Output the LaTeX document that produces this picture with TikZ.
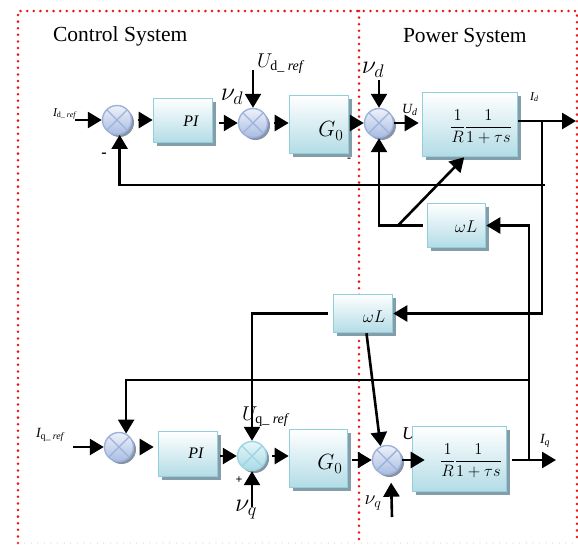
\documentclass[tikz,border=0pt]{standalone}
\usepackage{fix-cm}
\usepackage{amsmath}
\usepackage{fontspec}
\setmainfont{Liberation Serif}
\usetikzlibrary{arrows.meta,shadows,calc}
\definecolor{boxline}{HTML}{92CFDD}
\definecolor{boxbot}{HTML}{B3DCE6}
\definecolor{boxshadow}{HTML}{849DA8}
\definecolor{sumline}{HTML}{9DB2DA}
\definecolor{sumtop}{HTML}{EEF2FA}
\definecolor{sumbot}{HTML}{A9BCE2}
\definecolor{sumshadow}{HTML}{8893A6}
\definecolor{sumcline}{HTML}{9DD5E2}
\definecolor{sumctop}{HTML}{E6F6F9}
\definecolor{sumcbot}{HTML}{A8DAE6}
\definecolor{dotred}{HTML}{EE1111}
\definecolor{dotpink}{HTML}{F4C4C8}
\tikzset{
  blk/.style={rectangle, draw=boxline, line width=1.6pt, top color=white, bottom color=boxbot,
    inner sep=0pt, drop shadow={shadow xshift=3.5pt, shadow yshift=-3.5pt, fill=boxshadow, opacity=1}},
  sum/.style={circle, draw=#1, line width=1.4pt, top color=sumtop, bottom color=sumbot,
    minimum size=29pt, inner sep=0pt,
    drop shadow={shadow xshift=2.5pt, shadow yshift=-2.5pt, fill=sumshadow, opacity=1},
    path picture={\draw[#1, line width=1.4pt]
      (path picture bounding box.north west) -- (path picture bounding box.south east)
      (path picture bounding box.south west) -- (path picture bounding box.north east);}},
  sum/.default=sumline,
  sumc/.style={sum=sumcline, top color=sumctop, bottom color=sumcbot},
  arr/.style={line width=2.6pt, -{Triangle[length=14pt,width=16pt]}},
  ln/.style={line width=2.6pt},
  lbl/.style={inner sep=0pt, outer sep=0pt},
  dotline/.style={dotred, line width=2.8pt, line cap=round, dash pattern=on 0pt off 6.6pt}
}
\begin{document}
\begin{tikzpicture}[x=1pt,y=-1pt]
\fill[white] (0,0) rectangle (578,544);
\useasboundingbox (0,0) rectangle (578,544);

% frame
\draw[dotline] (18,543) -- (18,11) -- (577,11) -- (577,543);
\draw[dotline] (359,11) -- (359,543);
\draw[dotpink, line width=1.2pt, line cap=round, dash pattern=on 0pt off 6.6pt] (18,543) -- (577,543);

\node[lbl, anchor=west, font=\fontsize{21.5}{24}\selectfont] (tcs) at (53,36) {Control System};
\node[lbl, anchor=west, font=\fontsize{21.5}{24}\selectfont] (tps) at (403,38) {Power System};

% partially hidden label
\node[lbl, anchor=base west, font=\fontsize{18}{20}\selectfont] (Uqpart) at (402,439) {$\textit{U}$};

% blocks
\node[blk, minimum width=59pt, minimum height=44pt] (PId) at (183,120.5) {};
\node[blk, minimum width=59pt, minimum height=58pt] (G0d) at (319,124.5) {};
\node[blk, minimum width=95pt, minimum height=64pt] (Pd) at (470,124.5) {};
\node[blk, minimum width=58pt, minimum height=44pt] (wL1) at (456.5,225.5) {};
\node[blk, minimum width=59pt, minimum height=38pt] (wL2) at (363,313.5) {};
\node[blk, minimum width=59pt, minimum height=45pt] (PIq) at (188,454) {};
\node[blk, minimum width=58pt, minimum height=58pt] (G0q) at (318.5,458.5) {};
\node[blk, minimum width=94pt, minimum height=65pt] (Pq) at (459.5,459) {};

% summing junctions
\node[sum] (sd1) at (117,120) {};
\node[sum] (sd2) at (253,123) {};
\node[sum] (sd3) at (379,123) {};
\node[sum] (sq1) at (119,447) {};
\node[sumc] (sq2) at (252,456) {};
\node[sum] (sq3) at (387,460) {};

% block texts
\node[lbl, font=\fontsize{16}{18}\selectfont\itshape] (tPId) at (191,121) {PI};
\node[lbl, font=\fontsize{22}{24}\selectfont] (tG0d) at (331,131) {$G_0$};
\node[lbl, font=\fontsize{16.5}{19}\selectfont] (tPd) at (481,127) {$\dfrac{1}{R}\dfrac{1}{1+\tau s}$};
\node[lbl, font=\fontsize{17}{19}\selectfont] (twL1) at (466,227) {$\omega L$};
\node[lbl, font=\fontsize{17}{19}\selectfont] (twL2) at (374,317) {$\omega L$};
\node[lbl, font=\fontsize{16}{18}\selectfont\itshape] (tPIq) at (196,453) {PI};
\node[lbl, font=\fontsize{22}{24}\selectfont] (tG0q) at (330,464) {$G_0$};
\node[lbl, font=\fontsize{16.5}{19}\selectfont] (tPq) at (471,461) {$\dfrac{1}{R}\dfrac{1}{1+\tau s}$};

% coordinates
\coordinate (inD) at (75,120);
\coordinate (inQ) at (73,447);
\coordinate (UdrefS) at (253,70);
\coordinate (vd2S) at (379,80);
\coordinate (vq1S) at (252,507);
\coordinate (vq2S) at (392,517);
\coordinate (outD) at (576,121);
\coordinate (outQ) at (556,460);
\coordinate (bD) at (542,121);
\coordinate (fbD) at (545,185);
\coordinate (bQ) at (529,460);
\coordinate (fbQ) at (529,380);
\coordinate (tap) at (398,225.5);

% d axis
\draw[arr] (inD) -- (sd1.west);
\draw[arr, shorten <=6pt] (sd1.east) -- (sd1.east -| PId.west);
\draw[arr, shorten <=6pt] (PId.east |- sd2) -- (sd2.west);
\draw[arr] (UdrefS) -- (sd2.north);
\draw[arr, shorten <=6pt] (sd2.east) -- (sd2.east -| G0d.west);
\draw[arr, shorten <=2pt] (G0d.east |- sd3) -- (sd3.west);
\draw[arr] (vd2S) -- (sd3.north);
\draw[arr, shorten >=3pt] (sd3.east) -- (sd3.east -| Pd.west);
\draw[arr] (Pd.east |- outD) -- (outD);
\draw[ln] (bD) -- (bD |- fbD);
\draw[arr] (fbD) -| (sd1.-80);
\draw[arr] (bD) |- (wL2.east);
\draw[arr, shorten <=4pt] (wL1.west) -| (sd3.south);
\draw[arr] (tap) -- (Pd.-100);

% q axis
\draw[arr] (inQ) -- (sq1.west);
\draw[arr, shorten <=6pt, shorten >=4pt] (sq1.east) -- (sq1.east -| PIq.west);
\draw[arr, shorten <=2pt] (PIq.east |- sq2) -- (sq2.west);
\draw[arr] (vq1S) -- (sq2.south);
\draw[arr, shorten <=5pt] (sq2.east) -- (sq2.east -| G0q.west);
\draw[arr, shorten <=4pt] (G0q.east |- sq3) -- (sq3.west);
\draw[arr, shorten >=8pt] (vq2S) -- (sq3.-75);
\draw[arr, shorten >=-13pt] (sq3.east) -- (sq3.east -| Pq.west);
\draw[arr, shorten <=5pt] (Pq.east |- outQ) -- (outQ);
\draw[arr] (bQ) -- (fbQ) -| (sq1.62);
\draw[arr] (bQ) |- (wL1.east);
\draw[arr, shorten <=5pt] (wL2.west) -| (sq2.north);
\draw[arr] (wL2.-80) -- (sq3.115);

% labels
\node[lbl, anchor=base west, font=\fontsize{12}{14}\selectfont] (Idref) at (53,116) {$\textit{I}_{\textrm{d\_ }\textit{ref}}$};
\node[lbl, anchor=base west, font=\fontsize{14}{16}\selectfont] (Iqref) at (36,437) {$\textit{I}_{\textrm{q\_ }\textit{ref}}$};
\node[lbl, anchor=base west, font=\fontsize{20}{22}\selectfont] (Udref) at (257,67) {$U_{\textrm{d\_ }\textit{ref}}$};
\node[lbl, anchor=base west, font=\fontsize{20}{22}\selectfont] (Uqref) at (242,420) {$U_{\textrm{q\_ }\textit{ref}}$};
\node[lbl, font=\fontsize{26}{28}\selectfont] (vd1) at (232,97) {$\nu_d$};
\node[lbl, font=\fontsize{26}{28}\selectfont] (vd2) at (373,70) {$\nu_d$};
\node[lbl, font=\fontsize{26}{28}\selectfont] (vq1) at (246,510) {$\nu_q$};
\node[lbl, font=\fontsize{20}{22}\selectfont] (vq2) at (373,503) {$\nu_q$};
\node[lbl, anchor=base west, font=\fontsize{14}{16}\selectfont] (Ud) at (402,113) {$\textit{U}_{\textit{d}}$};
\node[lbl, anchor=base west, font=\fontsize{12}{14}\selectfont] (Id) at (530,100) {$\textit{I}_{\textit{d}}$};
\node[lbl, anchor=base west, font=\fontsize{14}{16}\selectfont] (Iq) at (540,443) {$\textit{I}_{\textit{q}}$};
\node[lbl, font=\fontsize{16}{18}\selectfont\bfseries] (minus1) at (104,155) {-};
\node[lbl, font=\fontsize{12}{14}\selectfont\bfseries] (minus2) at (349,160) {-};
\node[lbl, font=\fontsize{12}{14}\selectfont\bfseries] (plus1) at (239,480) {+};
\end{tikzpicture}
\end{document}
